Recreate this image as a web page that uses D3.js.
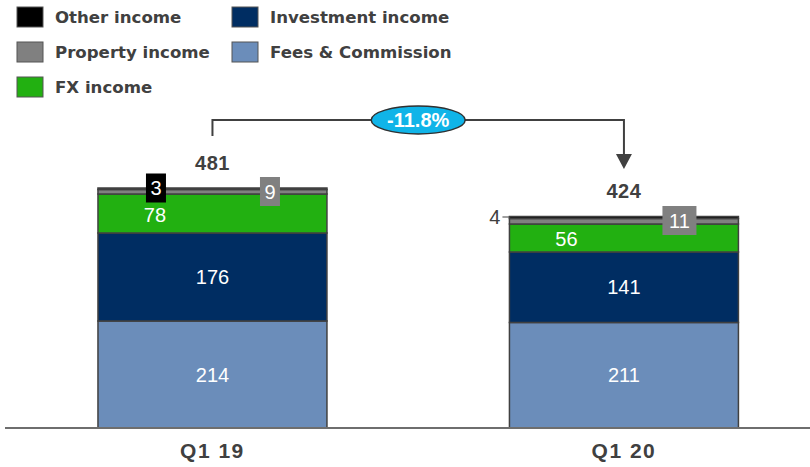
<!DOCTYPE html>
<html>
<head>
<script src="https://d3js.org/d3.v7.min.js"></script>
<style>
  body { margin: 0; background: #fff; }
</style>
</head>
<body>
<svg id="chart" width="810" height="467"></svg>
<script>
// data
const periods = ["Q1 19", "Q1 20"];
const series = ["Fees & Commission", "Investment income", "FX income", "Property income", "Other income"];
const fees = [214, 211];
const investment = [176, 141];
const fx = [78, 56];
const property = [9, 11];
const other = [3, 4];
const totals = [481, 424];
const changeLabel = "-11.8%";

const colors = {
  "Other income": "#000000",
  "Investment income": "#002d62",
  "Property income": "#808080",
  "Fees & Commission": "#6b8dba",
  "FX income": "#22b011"
};
const legendOrder = ["Other income", "Investment income", "Property income", "Fees & Commission", "FX income"];

const svg = d3.select("#chart");
const textCol = "#404040";

const x = d3.scaleBand().domain(periods).range([-4.9, 841.3])
  .paddingInner(0.4435).paddingOuter(0.25);
const y = d3.scaleLinear().domain([0, 500]).range([428, 178]);

const rows = periods.map((p, i) => ({
  period: p,
  "Fees & Commission": fees[i],
  "Investment income": investment[i],
  "FX income": fx[i],
  "Property income": property[i],
  "Other income": other[i]
}));
const stacked = d3.stack().keys(series)(rows);

// bars
const g = svg.append("g");
stacked.forEach(layer => {
  g.selectAll(null).data(layer).enter().append("rect")
    .attr("x", d => x(d.data.period))
    .attr("width", x.bandwidth())
    .attr("y", d => y(d[1]))
    .attr("height", d => y(d[0]) - y(d[1]))
    .attr("fill", colors[layer.key])
    .attr("stroke", "#404040")
    .attr("stroke-width", 1.5);
});

// axis line
svg.append("line").attr("x1", 5).attr("x2", 810).attr("y1", y(0)).attr("y2", y(0))
  .attr("stroke", "#6e6e6e").attr("stroke-width", 2);

// axis labels
svg.selectAll(".xl").data(periods).enter().append("text")
  .attr("x", d => x(d) + x.bandwidth() / 2).attr("y", 458)
  .attr("text-anchor", "middle")
  .style("font", "bold 21px 'Liberation Sans', Arial, sans-serif")
  .style("letter-spacing", "1.5px")
  .attr("fill", textCol).text(d => d);

// inner labels
const lbl = "20px 'Liberation Sans', Arial, sans-serif";
["Fees & Commission", "Investment income"].forEach(k => {
  const layer = stacked.find(s => s.key === k);
  svg.selectAll(null).data(layer).enter().append("text")
    .attr("x", d => x(d.data.period) + x.bandwidth() / 2)
    .attr("y", d => (y(d[0]) + y(d[1])) / 2 + 7)
    .attr("text-anchor", "middle").attr("fill", "#fff")
    .style("font", lbl).text(d => d.data[k]);
});
const fxLayer = stacked.find(s => s.key === "FX income");
svg.selectAll(null).data(fxLayer).enter().append("text")
  .attr("x", d => x(d.data.period) + 57)
  .attr("y", d => (y(d[0]) + y(d[1])) / 2 + 8)
  .attr("text-anchor", "middle").attr("fill", "#fff")
  .style("font", lbl).text(d => d.data["FX income"]);

// small boxed labels
function boxLabel(cx, cy, w, h, fill, txt) {
  svg.append("rect").attr("x", cx - w / 2).attr("y", cy - h / 2)
    .attr("width", w).attr("height", h).attr("fill", fill);
  svg.append("text").attr("x", cx).attr("y", cy + 7).attr("text-anchor", "middle")
    .attr("fill", "#fff").style("font", lbl).text(txt);
}
const b0 = x(periods[0]), b1 = x(periods[1]);
boxLabel(b0 + 58, 188, 20, 29, colors["Other income"], other[0]);
boxLabel(b0 + 172, 191.5, 20, 29, colors["Property income"], property[0]);
boxLabel(b1 + 170, 220.5, 34, 29, colors["Property income"], property[1]);

// "4" with leader
const top2 = y(totals[1]);
svg.append("text").attr("x", b1 - 9).attr("y", top2 + 8).attr("text-anchor", "end")
  .attr("fill", textCol).style("font", lbl).text(other[1]);
svg.append("line").attr("x1", b1 - 7).attr("x2", b1).attr("y1", top2 + 1).attr("y2", top2 + 1)
  .attr("stroke", textCol).attr("stroke-width", 1);

// totals
periods.forEach((p, i) => {
  svg.append("text").attr("x", x(p) + x.bandwidth() / 2).attr("y", y(totals[i]) - 18)
    .attr("text-anchor", "middle").attr("fill", textCol)
    .style("font", "bold 20px 'Liberation Sans', Arial, sans-serif")
    .style("letter-spacing", "0.5px").text(totals[i]);
});

// change arrow
const c0 = x(periods[0]) + x.bandwidth() / 2, c1 = x(periods[1]) + x.bandwidth() / 2;
const ay = 120;
svg.append("path")
  .attr("d", `M${c0},136 V${ay} H${c1} V155`)
  .attr("fill", "none").attr("stroke", textCol).attr("stroke-width", 2);
svg.append("path")
  .attr("d", `M${c1 - 8},154 L${c1 + 8},154 L${c1},169 Z`).attr("fill", textCol);
const mx = (c0 + c1) / 2;
svg.append("ellipse").attr("cx", mx).attr("cy", ay).attr("rx", 47).attr("ry", 14)
  .attr("fill", "#10b4e8").attr("stroke", "#303030").attr("stroke-width", 1.5);
svg.append("text").attr("x", mx).attr("y", ay + 7).attr("text-anchor", "middle")
  .attr("fill", "#fff").style("font", "bold 20px 'Liberation Sans', Arial, sans-serif")
  .text(changeLabel);

// legend
const leg = svg.append("g");
legendOrder.forEach((k, i) => {
  const col = i % 2, row = Math.floor(i / 2);
  const lx = col === 0 ? 17 : 232, ly = 7 + row * 35;
  leg.append("rect").attr("x", lx).attr("y", ly).attr("width", 26).attr("height", 20)
    .attr("fill", colors[k]).attr("stroke", "#555").attr("stroke-width", 1);
  leg.append("text").attr("x", lx + 38).attr("y", ly + 16)
    .attr("fill", textCol).style("font", "bold 16.6px 'DejaVu Sans', sans-serif").text(k);
});
</script>
</body>
</html>
